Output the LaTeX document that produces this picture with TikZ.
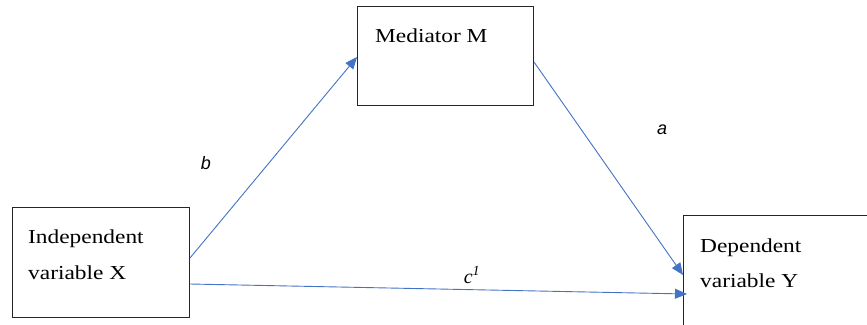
\documentclass[tikz,border=0pt]{standalone}
\usepackage{fontspec}
\setmainfont{Liberation Serif}
\newfontfamily\boxfont[FakeStretch=1.18]{Liberation Serif}
\newfontfamily\lblsans{Liberation Sans}
\usetikzlibrary{arrows.meta,calc}
\definecolor{arrblue}{RGB}{68,114,196}
\tikzset{
  box/.style={draw=black!85, line width=1pt, anchor=north west, inner sep=0pt},
  boxtext/.style={anchor=base west, inner sep=0pt, font=\boxfont\fontsize{19.8}{23}\selectfont},
  arr/.style={draw=arrblue, line width=0.9pt, -{Triangle[length=12pt,width=10pt]}},
  lbl/.style={inner sep=0pt, font=\lblsans\itshape\fontsize{18}{20}\selectfont},
}
\begin{document}
\begin{tikzpicture}[x=1pt,y=-1pt]
\useasboundingbox (0,0) rectangle (867,324);
\clip (0,0) rectangle (867,324);
\node[box, minimum width=177pt, minimum height=110pt] (X) at (12,207) {};
\node[box, minimum width=176pt, minimum height=99pt] (M) at (357,6) {};
\node[box, minimum width=200pt, minimum height=130pt] (Y) at (683,215) {};
\node[boxtext] (xt1) at (28,243) {Independent};
\node[boxtext] (xt2) at (28,279) {variable X};
\node[boxtext] (mt) at (375,42) {Mediator M};
\node[boxtext] (yt1) at (700,252) {Dependent};
\node[boxtext] (yt2) at (700,287) {variable Y};
\draw[arr] ([yshift=-51pt]X.north east) -- ([yshift=-51pt]M.north west);
\draw[arr] ([yshift=-56pt]M.north east) -- ([yshift=-60pt]Y.north west);
\draw[arr] ([yshift=-77pt]X.north east) -- ([xshift=4pt,yshift=-79pt]Y.north west);
\node[lbl] (lb) at (206,163) {b};
\node[lbl] (la) at (662,130) {a};
\node[inner sep=0pt, font=\itshape\fontsize{20}{22}\selectfont] (lc) at (472,275) {c\textsuperscript{\itshape 1}};
\end{tikzpicture}
\end{document}
